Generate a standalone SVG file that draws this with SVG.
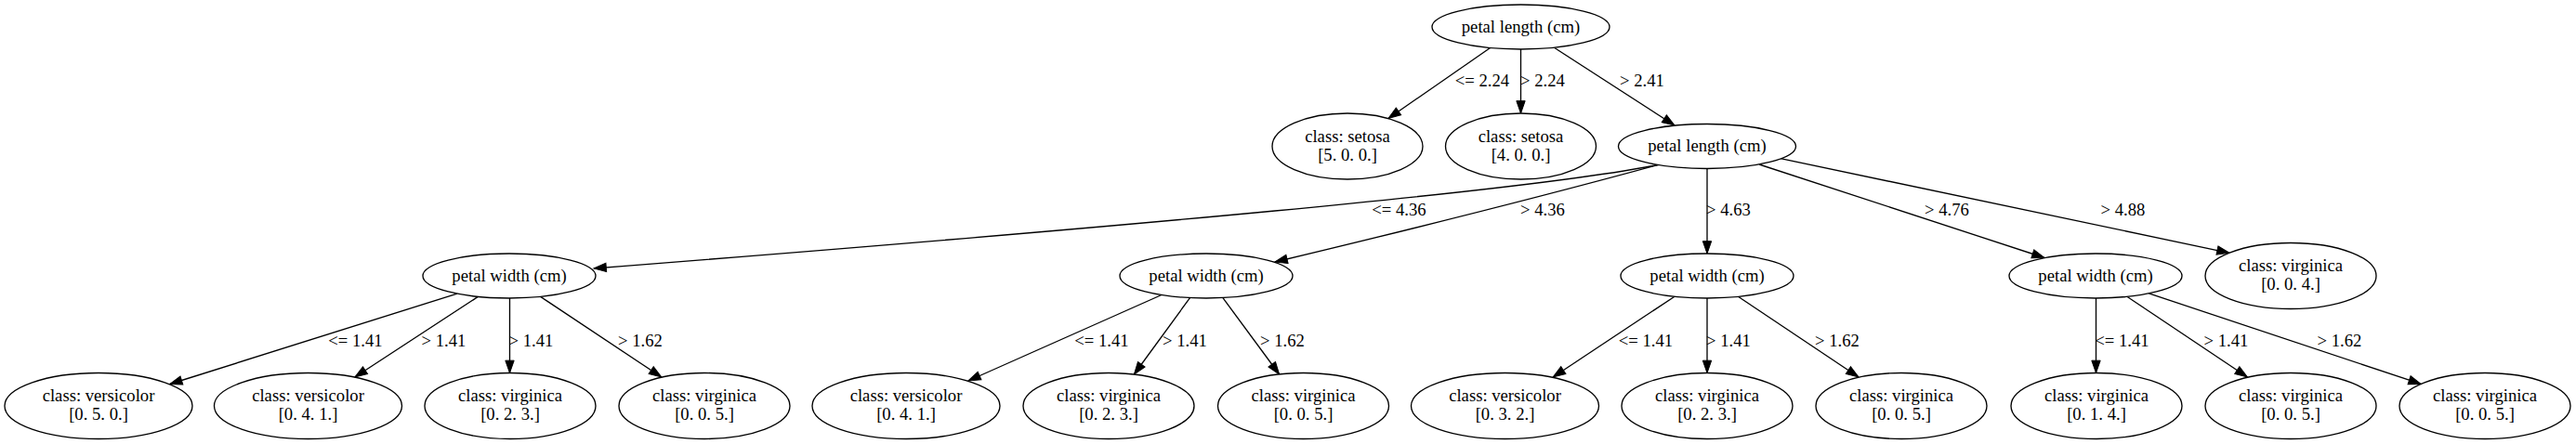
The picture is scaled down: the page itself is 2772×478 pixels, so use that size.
<svg xmlns="http://www.w3.org/2000/svg" width="2772" height="478" viewBox="0 0 2772 478">
<style>
  .node ellipse { fill: #ffffff; stroke: #000000; stroke-width: 1.33; }
  text { font-family: "Liberation Serif", "Times New Roman", serif; font-size: 18.67px; fill: #000000; text-anchor: middle; }
  .edges path { fill: none; stroke: #000000; stroke-width: 1.33; marker-end: url(#arrow); }
</style>
<defs>
  <marker id="arrow" markerUnits="userSpaceOnUse" markerWidth="16" markerHeight="12" viewBox="0 -6 16 12" refX="13.33" refY="0" orient="auto" overflow="visible">
    <path d="M0,-4.67 L13.33,0 L0,4.67 Z" fill="#000000" stroke="#000000" stroke-width="1"/>
  </marker>
</defs>
<rect x="0" y="0" width="2772" height="478" fill="#ffffff"/>

<g id="connectors" class="edges">
  <path d="M1603.6,51.5 L1494,127.5"/>
  <path d="M1636.5,52.5 L1636.5,122"/>
  <path d="M1672.8,51.5 L1802,135"/>
  <path d="M1786,177 C1650,205 1200,245 639,289"/>
  <path d="M1786,177 C1720,195 1560,237 1372,282"/>
  <path d="M1837,181.5 L1837,273"/>
  <path d="M1893,177 L2200,277.5"/>
  <path d="M1916,170.6 L2399,272.3"/>

  <path d="M492,316.2 L182.7,413.5"/>
  <path d="M514.4,319.4 L381.9,406"/>
  <path d="M548.5,321 L548.5,401.5"/>
  <path d="M581.6,319.4 L711.8,406"/>

  <path d="M1249.9,317.5 L1041.9,410"/>
  <path d="M1280.5,320.6 L1220.4,403"/>
  <path d="M1315.9,320.6 L1376.6,403"/>

  <path d="M1802,319.2 L1671.2,406"/>
  <path d="M1837,321 L1837,401.5"/>
  <path d="M1870.4,319.2 L2000,406"/>

  <path d="M2255.5,321 L2255.5,401.5"/>
  <path d="M2288.8,319.2 L2418.4,406"/>
  <path d="M2312.4,315.9 L2605.2,413.4"/>

  <g id="edge-labels">
    <text x="1595" y="93">&lt;= 2.24</text>
    <text x="1660" y="93">&gt; 2.24</text>
    <text x="1767" y="93">&gt; 2.41</text>
    <text x="1505.5" y="232">&lt;= 4.36</text>
    <text x="1660" y="232">&gt; 4.36</text>
    <text x="1860" y="232">&gt; 4.63</text>
    <text x="2095" y="232">&gt; 4.76</text>
    <text x="2284.5" y="232">&gt; 4.88</text>
    <text x="382.5" y="373">&lt;= 1.41</text>
    <text x="477.5" y="373">&gt; 1.41</text>
    <text x="571.5" y="373">&gt; 1.41</text>
    <text x="689" y="373">&gt; 1.62</text>
    <text x="1185.5" y="373">&lt;= 1.41</text>
    <text x="1275" y="373">&gt; 1.41</text>
    <text x="1380" y="373">&gt; 1.62</text>
    <text x="1771" y="373">&lt;= 1.41</text>
    <text x="1860" y="373">&gt; 1.41</text>
    <text x="1977" y="373">&gt; 1.62</text>
    <text x="2283.5" y="373">&lt;= 1.41</text>
    <text x="2395.5" y="373">&gt; 1.41</text>
    <text x="2517.5" y="373">&gt; 1.62</text>
  </g>
</g>

<g id="n0" class="node"><ellipse cx="1636.5" cy="29" rx="95.5" ry="24"/><text x="1636.5" y="34.5">petal length (cm)</text></g>
<g id="n1" class="node"><ellipse cx="1450" cy="157.5" rx="81" ry="35.5"/><text x="1450" y="152.5">class: setosa</text><text x="1450" y="172.5">[5. 0. 0.]</text></g>
<g id="n2" class="node"><ellipse cx="1636.5" cy="157.5" rx="81" ry="35.5"/><text x="1636.5" y="152.5">class: setosa</text><text x="1636.5" y="172.5">[4. 0. 0.]</text></g>
<g id="n3" class="node"><ellipse cx="1837" cy="157.5" rx="95.5" ry="24"/><text x="1837" y="163">petal length (cm)</text></g>

<g id="n4" class="node"><ellipse cx="548" cy="297" rx="93" ry="24"/><text x="548" y="302.5">petal width (cm)</text></g>
<g id="n5" class="node"><ellipse cx="1298" cy="297" rx="93" ry="24"/><text x="1298" y="302.5">petal width (cm)</text></g>
<g id="n6" class="node"><ellipse cx="1837" cy="297" rx="93" ry="24"/><text x="1837" y="302.5">petal width (cm)</text></g>
<g id="n7" class="node"><ellipse cx="2255" cy="297" rx="93" ry="24"/><text x="2255" y="302.5">petal width (cm)</text></g>
<g id="n8" class="node"><ellipse cx="2465" cy="297" rx="92" ry="35.5"/><text x="2465" y="292">class: virginica</text><text x="2465" y="312">[0. 0. 4.]</text></g>

<g id="n9" class="node"><ellipse cx="106" cy="437" rx="101" ry="35.5"/><text x="106" y="432">class: versicolor</text><text x="106" y="452">[0. 5. 0.]</text></g>
<g id="n10" class="node"><ellipse cx="331.5" cy="437" rx="101" ry="35.5"/><text x="331.5" y="432">class: versicolor</text><text x="331.5" y="452">[0. 4. 1.]</text></g>
<g id="n11" class="node"><ellipse cx="549" cy="437" rx="92" ry="35.5"/><text x="549" y="432">class: virginica</text><text x="549" y="452">[0. 2. 3.]</text></g>
<g id="n12" class="node"><ellipse cx="758" cy="437" rx="92" ry="35.5"/><text x="758" y="432">class: virginica</text><text x="758" y="452">[0. 0. 5.]</text></g>
<g id="n13" class="node"><ellipse cx="975" cy="437" rx="101" ry="35.5"/><text x="975" y="432">class: versicolor</text><text x="975" y="452">[0. 4. 1.]</text></g>
<g id="n14" class="node"><ellipse cx="1193" cy="437" rx="92" ry="35.5"/><text x="1193" y="432">class: virginica</text><text x="1193" y="452">[0. 2. 3.]</text></g>
<g id="n15" class="node"><ellipse cx="1402.5" cy="437" rx="92" ry="35.5"/><text x="1402.5" y="432">class: virginica</text><text x="1402.5" y="452">[0. 0. 5.]</text></g>
<g id="n16" class="node"><ellipse cx="1619.5" cy="437" rx="101" ry="35.5"/><text x="1619.5" y="432">class: versicolor</text><text x="1619.5" y="452">[0. 3. 2.]</text></g>
<g id="n17" class="node"><ellipse cx="1837" cy="437" rx="92" ry="35.5"/><text x="1837" y="432">class: virginica</text><text x="1837" y="452">[0. 2. 3.]</text></g>
<g id="n18" class="node"><ellipse cx="2046" cy="437" rx="92" ry="35.5"/><text x="2046" y="432">class: virginica</text><text x="2046" y="452">[0. 0. 5.]</text></g>
<g id="n19" class="node"><ellipse cx="2256" cy="437" rx="92" ry="35.5"/><text x="2256" y="432">class: virginica</text><text x="2256" y="452">[0. 1. 4.]</text></g>
<g id="n20" class="node"><ellipse cx="2465" cy="437" rx="92" ry="35.5"/><text x="2465" y="432">class: virginica</text><text x="2465" y="452">[0. 0. 5.]</text></g>
<g id="n21" class="node"><ellipse cx="2674" cy="437" rx="92" ry="35.5"/><text x="2674" y="432">class: virginica</text><text x="2674" y="452">[0. 0. 5.]</text></g>
</svg>
